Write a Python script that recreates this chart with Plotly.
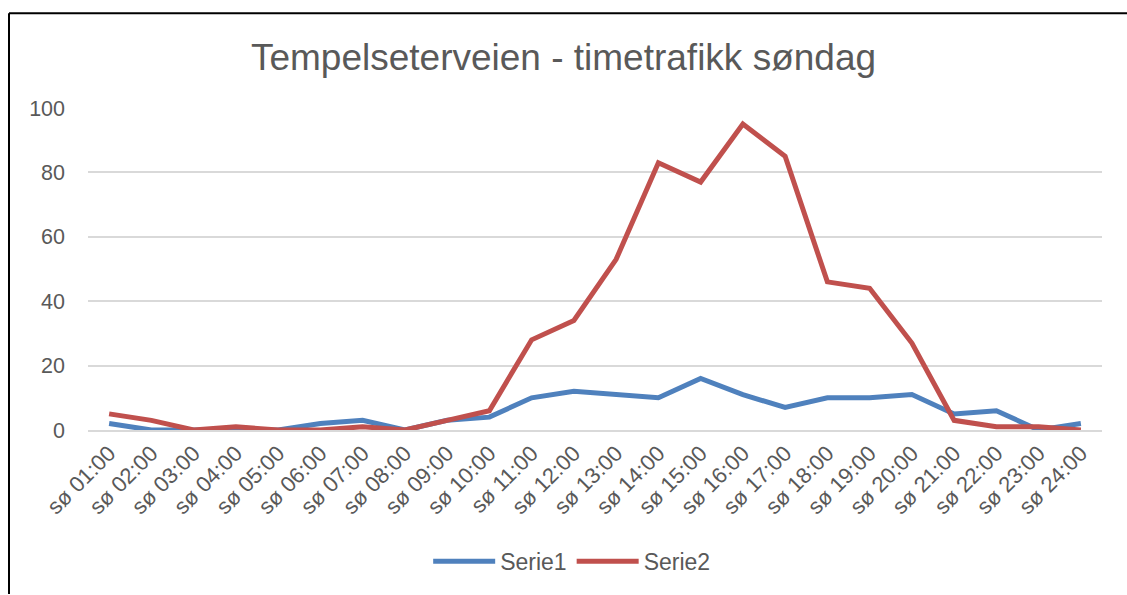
import plotly.graph_objects as go

categories = ["sø %02d:00" % h for h in range(1, 25)]
serie1 = [2, 0, 0, 0, 0, 2, 3, 0, 3, 4, 10, 12, 11, 10, 16, 11, 7, 10, 10, 11, 5, 6, 0, 2]
serie2 = [5, 3, 0, 1, 0, 0, 1, 0, 3, 6, 28, 34, 53, 83, 77, 95, 85, 46, 44, 27, 3, 1, 1, 0]
y_ticks = [0, 20, 40, 60, 80, 100]

W, H = 1127, 595
L, R, T, B = 88, 25, 108, 161
pw, ph = W - L - R, H - T - B

def px(x):
    return (x - L) / pw

def py(y):
    return (H - B - y) / ph

fig = go.Figure()
fig.add_trace(go.Scatter(x=categories, y=serie1, mode="lines", name="Serie1",
                         line=dict(color="#4f81bd", width=5)))
fig.add_trace(go.Scatter(x=categories, y=serie2, mode="lines", name="Serie2",
                         line=dict(color="#c0504d", width=5)))

font = "Liberation Sans, Arial, sans-serif"
fig.update_layout(
    width=W, height=H,
    margin=dict(l=L, r=R, t=T, b=B),
    paper_bgcolor="white", plot_bgcolor="white",
    font=dict(family=font, color="#595959", size=21),
    title=dict(text="Tempelseterveien - timetrafikk søndag", x=0.5, xanchor="center",
               y=1 - 57 / H, yanchor="middle",
               font=dict(size=37, color="#595959", family=font)),
    showlegend=True,
    legend=dict(orientation="h", x=0.477, xanchor="center", y=py(567), yanchor="middle",
                font=dict(size=23, color="#595959"), itemwidth=62, traceorder="normal"),
    xaxis=dict(type="category", range=[-0.5, 23.5], tickangle=-45, showgrid=False,
               showline=True, linecolor="#d9d9d9", linewidth=1.5, ticks="",
               tickfont=dict(size=22, color="#595959")),
    yaxis=dict(range=[0, 100], tickvals=y_ticks, showgrid=True, gridcolor="#d9d9d9",
               gridwidth=1.5, zeroline=False, showline=False, ticks="",
               ticklabelstandoff=22, tickfont=dict(size=21.5, color="#595959")),
)

fig.add_shape(type="line", xref="paper", yref="paper", x0=px(9), x1=px(W + 5),
              y0=py(12), y1=py(12), line=dict(color="black", width=2))
fig.add_shape(type="line", xref="paper", yref="paper", x0=px(9), x1=px(9),
              y0=py(12), y1=py(H + 5), line=dict(color="black", width=2))

fig.write_html("out.html", config={"displayModeBar": False},
               post_script="document.body.style.margin='0';")
